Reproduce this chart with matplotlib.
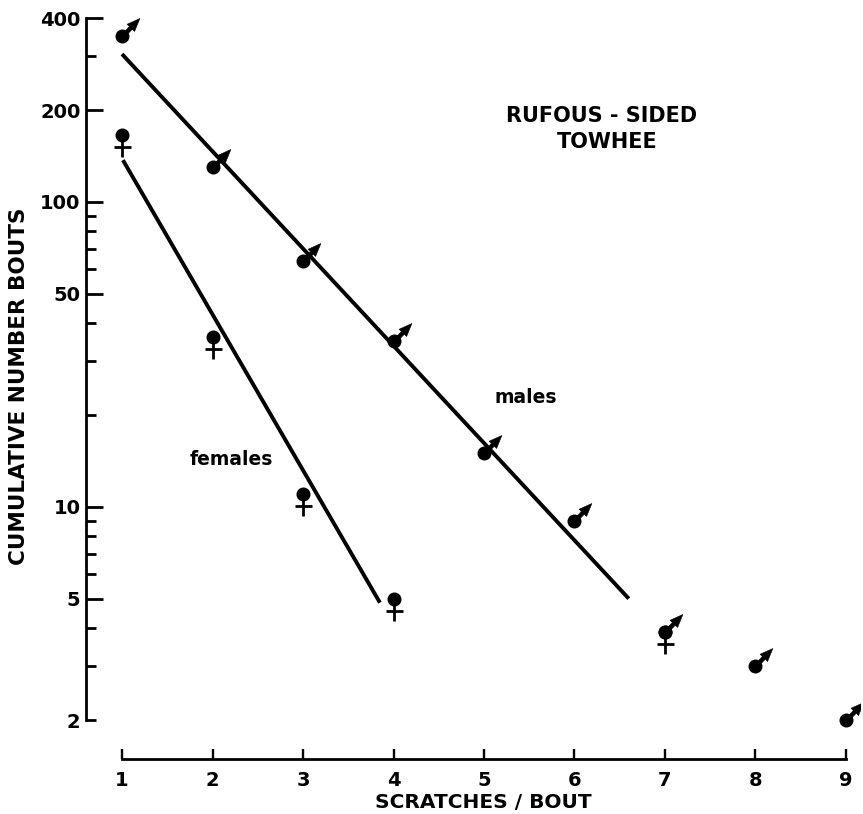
import numpy as np
import matplotlib
matplotlib.use("Agg")
import matplotlib.pyplot as plt
from matplotlib.path import Path
from matplotlib.ticker import FixedLocator, FixedFormatter

# ---------------- data ----------------
male_x = [1, 2, 3, 4, 5, 6, 7, 8, 9]
male_y = [350, 130, 64, 35, 15, 9, 3.9, 3, 2]
female_x = [1, 2, 3, 4, 7]
female_y = [165, 36, 11, 5.0, 3.9]

male_fit_x = [1.0, 6.6]
male_fit_y = [305, 5.0]
female_fit_x = [1.01, 3.85]
female_fit_y = [137, 4.85]

x_ticks = [1, 2, 3, 4, 5, 6, 7, 8, 9]
x_labels = ["1", "2", "3", "4", "5", "6", "7", "8", "9"]
y_major = [5, 10, 50, 100, 200, 400]
y_major_labels = ["5", "10", "50", "100", "200", "400"]
y_minor = [2, 3, 4, 6, 7, 8, 9, 20, 30, 40, 60, 70, 80, 90, 300]
y_minor_labels = ["2"] + [""] * 14

title_lines = ["RUFOUS - SIDED", "TOWHEE"]
x_title = "SCRATCHES / BOUT"
y_title = "CUMULATIVE NUMBER BOUTS"

# ---------------- style ----------------
DPI = 100
W, H = 863, 814
plt.rcParams["font.family"] = ["DejaVu Sans"]
plt.rcParams["font.weight"] = "bold"

fig = plt.figure(figsize=(W / DPI, H / DPI), dpi=DPI)
ax_left, ax_right, ax_top, ax_bottom = 86, 860, 8, 759
ax = fig.add_axes([ax_left / W, 1 - ax_bottom / H,
                   (ax_right - ax_left) / W, (ax_bottom - ax_top) / H])

ax.set_yscale("log")
ax.set_xlim(0.602, 9.155)
ax.set_ylim(1.49, 432)

for s in ("top", "right"):
    ax.spines[s].set_visible(False)
ax.spines["left"].set_bounds(2, 400)
ax.spines["bottom"].set_bounds(1, 9)
for s in ("left", "bottom"):
    ax.spines[s].set_linewidth(2.0)

ax.xaxis.set_major_locator(FixedLocator(x_ticks))
ax.xaxis.set_major_formatter(FixedFormatter(x_labels))
ax.xaxis.set_minor_locator(FixedLocator([]))
ax.yaxis.set_major_locator(FixedLocator(y_major))
ax.yaxis.set_major_formatter(FixedFormatter(y_major_labels))
ax.yaxis.set_minor_locator(FixedLocator(y_minor))
ax.yaxis.set_minor_formatter(FixedFormatter(y_minor_labels))

ax.tick_params(axis="y", which="major", direction="in", length=12.2, width=2.0,
               pad=4, labelsize=14)
ax.tick_params(axis="y", which="minor", direction="in", length=7.5, width=2.0,
               pad=4, labelsize=14)
ax.tick_params(axis="x", which="major", direction="in", length=7.2, width=1.7,
               pad=8.5, labelsize=14)

# fitted lines
ax.plot(male_fit_x, male_fit_y, color="black", lw=2.8, solid_capstyle="butt", zorder=2)
ax.plot(female_fit_x, female_fit_y, color="black", lw=2.8, solid_capstyle="butt", zorder=2)

# --- custom marker shapes (in pixel units relative to the point) ---
th = np.deg2rad(46)
u = np.array([np.cos(th), np.sin(th)])
n = np.array([-np.sin(th), np.cos(th)])
r0, r1, rt, hw, hh = 5.5, 12.0, 25.0, 2.0, 5.2
arrow_verts = np.array([
    r0 * u - hw * n, r1 * u - hw * n, r1 * u - hh * n, rt * u,
    r1 * u + hh * n, r1 * u + hw * n, r0 * u + hw * n, r0 * u - hw * n])
arrow_codes = [Path.MOVETO] + [Path.LINETO] * 6 + [Path.CLOSEPOLY]
arrow_path = Path(arrow_verts, arrow_codes)
arrow_ms = 2 * np.max(np.abs(arrow_verts)) * 72 / DPI

cross_verts = np.array([[0, -6], [0, -22], [-8.5, -12], [8.5, -12]], dtype=float)
cross_codes = [Path.MOVETO, Path.LINETO, Path.MOVETO, Path.LINETO]
cross_path = Path(cross_verts, cross_codes)
cross_ms = 2 * np.max(np.abs(cross_verts)) * 72 / DPI

circle_ms = 14 * 72 / DPI

# males
ax.plot(male_x, male_y, linestyle="none", marker="o", ms=circle_ms,
        mfc="black", mec="black", mew=0, zorder=4)
ax.plot(male_x, male_y, linestyle="none", marker=arrow_path, ms=arrow_ms,
        mfc="black", mec="black", mew=0.4, zorder=4)
# females
ax.plot(female_x, female_y, linestyle="none", marker="o", ms=circle_ms,
        mfc="black", mec="black", mew=0, zorder=4)
ax.plot(female_x, female_y, linestyle="none", marker=cross_path, ms=cross_ms,
        mfc="none", mec="black", mew=2.0, zorder=4)

def px(x, y):
    return x / W, 1 - y / H

fig.text(*px(602, 122), title_lines[0], ha="center", va="baseline", fontsize=15)
fig.text(*px(607, 148), title_lines[1], ha="center", va="baseline", fontsize=15)
fig.text(*px(526, 403), "males", ha="center", va="baseline", fontsize=13.5)
fig.text(*px(231, 465), "females", ha="center", va="baseline", fontsize=13.5)
fig.text(*px(483, 808), x_title, ha="center", va="baseline", fontsize=14.5)
fig.text(*px(19, 386), y_title, ha="center", va="center", rotation=90, fontsize=15.5)

fig.savefig("out.png", dpi=DPI)
